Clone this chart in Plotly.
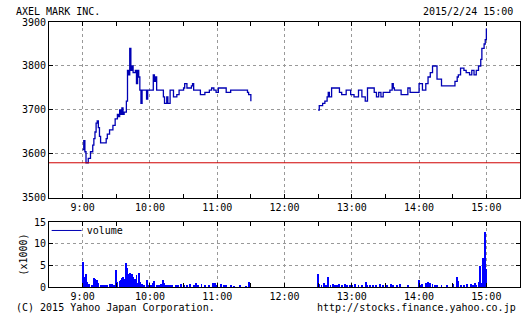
import pandas as pd
import plotly.graph_objects as go

# ---- data (minutes after 9:00, 2015-02-24) ----
am_minutes = [0,1,2,3,5,7,9,10,11,12,13,14,15,16,21,22,24,27,29,31,32,33,34,35,36,37,39,40,41,42,
              43,44,45,47,48,49,50,51,52,53,57,58,60,63,64,65,66,72,73,75,76,78,81,84,86,90,91,93,97,98,
              99,105,109,113,115,117,119,121,128,132,147,148,150]
am_prices = [3610,3630,3605,3580,3590,3605,3620,3635,3650,3670,3675,3660,3640,3625,3635,3645,3655,3665,3680,3690,
             3685,3700,3690,3705,3690,3695,3720,3790,3780,3840,3790,3800,3785,3790,3760,3790,3775,3745,3715,3745,
             3725,3745,3745,3780,3765,3775,3745,3730,3715,3730,3715,3745,3730,3735,3745,3750,3760,3750,3755,3760,
             3745,3735,3740,3745,3750,3745,3740,3750,3740,3745,3740,3735,3720]
pm_minutes = [210,211,214,216,218,219,220,222,229,231,235,239,242,246,249,252,254,260,262,264,
              266,268,274,276,277,278,284,290,292,300,303,306,308,310,312,316,320,332,334,335,
              337,340,342,345,347,349,351,353,355,356,358,359,360]
pm_prices = [3700,3710,3715,3720,3730,3740,3730,3750,3740,3735,3745,3735,3730,3745,3730,3720,3750,3740,3730,3740,
             3730,3740,3745,3760,3750,3745,3735,3750,3740,3760,3745,3760,3775,3785,3800,3770,3755,3765,3775,3780,
             3795,3790,3785,3780,3790,3780,3790,3800,3815,3840,3850,3860,3885]
prev_close = 3580

vol_minutes = [0,1,3,4,6,8,10,11,12,13,14,16,18,20,22,24,26,28,30,31,33,34,35,36,37,38,39,40,41,42,43,44,45,46,47,48,49,50,
               51,52,53,55,57,58,60,62,63,64,66,68,70,72,73,74,76,78,80,83,85,88,90,93,96,99,101,103,106,109,113,116,
               118,120,123,126,128,132,135,140,146,148,149,
               210,211,213,215,217,219,221,223,225,227,229,231,234,236,238,240,243,246,249,253,254,256,259,262,265,268,
               271,275,277,280,283,290,300,301,303,306,307,308,309,310,312,314,316,320,325,330,334,335,337,340,343,346,
               348,350,351,353,354,355,357,358,359,360]
vol_shares = [5800,2300,3000,1200,600,400,2000,1800,1400,1600,900,500,300,400,300,600,700,500,3800,1200,1300,1600,2100,2300,
              1800,1500,5600,4300,2900,3200,2500,3100,2200,1500,1900,2700,900,3300,1200,500,700,400,1600,300,500,300,1000,
              1300,400,500,600,1500,900,500,400,300,500,400,300,600,400,300,600,400,900,300,700,400,300,800,900,500,600,400,
              500,400,200,300,200,1100,400,
              3000,600,400,800,500,2300,400,600,300,500,700,400,600,300,500,400,600,300,500,1200,400,300,400,300,600,300,
              500,700,400,300,600,500,1600,400,700,1000,800,1100,700,900,600,500,300,400,300,600,2300,1300,500,300,600,700,
              400,900,500,1100,4900,800,6700,2400,12700,4200]

y_ticks_price = [3500, 3600, 3700, 3800, 3900]
y_ticks_vol = [0, 5, 10, 15]
hour_labels = ["9:00", "10:00", "11:00", "12:00", "13:00", "14:00", "15:00"]

# ---- build ----
base = pd.Timestamp("2015-02-24 09:00")
def t(m):
    return base + pd.Timedelta(minutes=m)

px_x = [t(m) for m in am_minutes] + [None] + [t(m) for m in pm_minutes]
px_y = am_prices + [None] + pm_prices
hour_vals = [t(60 * i) for i in range(len(hour_labels))]

FONT = "DejaVu Sans Mono"
fig = go.Figure()
fig.add_trace(go.Scatter(x=px_x, y=px_y, mode="lines", line=dict(shape="hv", color="#0000b4", width=1.3),
                         connectgaps=False, showlegend=False, xaxis="x", yaxis="y"))
fig.add_trace(go.Bar(x=[t(m) for m in vol_minutes], y=[v / 1000 for v in vol_shares],
                     width=50000, marker=dict(color="#0000ff", line=dict(width=0)),
                     showlegend=False, xaxis="x2", yaxis="y2"))
fig.add_trace(go.Scatter(x=[None], y=[None], mode="lines", name="volume",
                         line=dict(color="#0000b4", width=1), xaxis="x2", yaxis="y2"))

fig.add_shape(type="line", xref="x domain", yref="y", x0=0, x1=1, y0=prev_close, y1=prev_close,
              line=dict(color="#d00000", width=1))

xcommon = dict(type="date", range=[t(-30), t(390)], tickvals=hour_vals, ticktext=hour_labels,
               showgrid=True, gridcolor="#999999", griddash="dot", gridwidth=1,
               showline=True, linecolor="black", linewidth=1, mirror="ticks",
               ticks="inside", ticklen=4, tickcolor="black",
               minor=dict(dtick=1800000, tick0=t(-30), ticks="inside", ticklen=4, tickcolor="black", showgrid=False),
               tickfont=dict(family=FONT, size=10, color="black"), zeroline=False)
ycommon = dict(showgrid=True, gridcolor="#999999", griddash="dot", gridwidth=1,
               showline=True, linecolor="black", linewidth=1, mirror="ticks",
               ticks="inside", ticklen=4, tickcolor="black",
               tickfont=dict(family=FONT, size=10, color="black"), zeroline=False)

fig.update_layout(
    width=526, height=319, margin=dict(l=49, r=6, t=22, b=32),
    paper_bgcolor="white", plot_bgcolor="white",
    font=dict(family=FONT, size=10, color="black"),
    xaxis=dict(**xcommon, anchor="y"),
    yaxis=dict(**ycommon, domain=[0.336, 1], range=[3500, 3900], tickvals=y_ticks_price),
    xaxis2=dict(**xcommon, anchor="y2"),
    yaxis2=dict(**ycommon, domain=[0, 0.245], range=[0, 15], tickvals=y_ticks_vol,
                title=dict(text="(x1000)", font=dict(family=FONT, size=10), standoff=4)),
    bargap=0,
    legend=dict(x=-0.005, y=0.268, xanchor="left", yanchor="top", bgcolor="rgba(0,0,0,0)",
                font=dict(family=FONT, size=10), itemwidth=30, tracegroupgap=0),
    showlegend=True,
)

ann = dict(xref="paper", yref="paper", showarrow=False, font=dict(family=FONT, size=10, color="black"))
fig.add_annotation(text="AXEL MARK INC.", x=-0.0743, y=1.038, xanchor="left", yanchor="middle", **ann)
fig.add_annotation(text="2015/2/24 15:00", x=0.989, y=1.038, xanchor="right", yanchor="middle", **ann)
fig.add_annotation(text="(C) 2015 Yahoo Japan Corporation.", x=-0.0743, y=-0.079, xanchor="left", yanchor="middle", **ann)
fig.add_annotation(text="http://stocks.finance.yahoo.co.jp", x=0.996, y=-0.079, xanchor="right", yanchor="middle", **ann)

fig.write_html("out.html")
